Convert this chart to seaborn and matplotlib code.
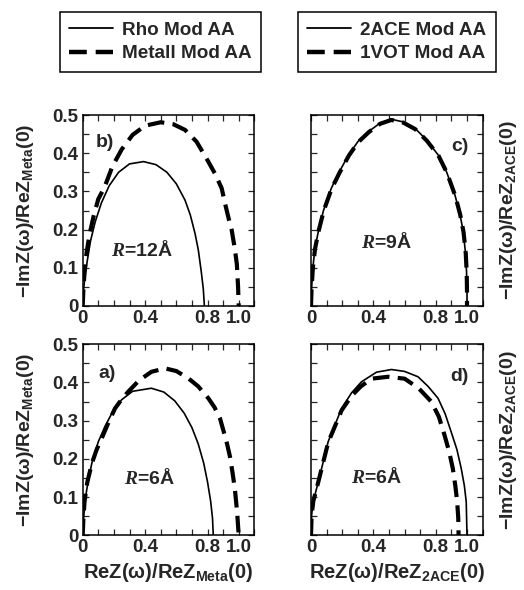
import numpy as np
import pandas as pd
import matplotlib
matplotlib.use('Agg')
import matplotlib.pyplot as plt
import seaborn as sns
from matplotlib.lines import Line2D
from matplotlib.ticker import FixedLocator, FixedFormatter, MultipleLocator

# panel b) R=12A : Rho Mod AA (solid) / Metall Mod AA (dashed)
b_solid_x = [0, 0.005, 0.015, 0.03, 0.05, 0.08, 0.12, 0.17, 0.23, 0.30, 0.39, 0.47, 0.54, 0.60, 0.656, 0.69, 0.72, 0.741, 0.76, 0.773, 0.78]
b_solid_y = [0, 0.04, 0.08, 0.12, 0.17, 0.22, 0.27, 0.315, 0.35, 0.372, 0.378, 0.37, 0.35, 0.32, 0.277, 0.238, 0.19, 0.147, 0.09, 0.045, 0]
b_dash_x = [0, 0.004, 0.012, 0.025, 0.045, 0.07, 0.10, 0.139, 0.19, 0.25, 0.32, 0.40, 0.50, 0.58, 0.656, 0.73, 0.805, 0.85, 0.891, 0.912, 0.935, 0.955, 0.975, 0.988, 0.996, 1.0]
b_dash_y = [0, 0.04, 0.09, 0.14, 0.19, 0.235, 0.28, 0.31, 0.365, 0.41, 0.448, 0.472, 0.481, 0.476, 0.461, 0.43, 0.378, 0.345, 0.308, 0.269, 0.23, 0.199, 0.15, 0.11, 0.05, 0]

# panel a) R=6A
a_solid_x = [0, 0.005, 0.015, 0.03, 0.058, 0.10, 0.143, 0.19, 0.25, 0.32, 0.44, 0.52, 0.59, 0.65, 0.70, 0.74, 0.775, 0.80, 0.82, 0.832, 0.837]
a_solid_y = [0, 0.04, 0.09, 0.13, 0.188, 0.245, 0.285, 0.322, 0.355, 0.377, 0.385, 0.375, 0.352, 0.32, 0.282, 0.24, 0.19, 0.14, 0.09, 0.045, 0]
a_dash_x = [0, 0.004, 0.012, 0.03, 0.06, 0.09, 0.122, 0.165, 0.207, 0.25, 0.292, 0.36, 0.44, 0.528, 0.60, 0.677, 0.74, 0.805, 0.845, 0.88, 0.905, 0.925, 0.944, 0.962, 0.976, 0.99, 1.0]
a_dash_y = [0, 0.04, 0.09, 0.14, 0.19, 0.225, 0.254, 0.295, 0.332, 0.356, 0.376, 0.405, 0.428, 0.437, 0.43, 0.411, 0.39, 0.359, 0.335, 0.306, 0.27, 0.24, 0.206, 0.16, 0.119, 0.06, 0]

# panel c) R=9A : 2ACE Mod AA (solid) / 1VOT Mod AA (dashed)
c_solid_x = [0, 0.003, 0.012, 0.025, 0.047, 0.08, 0.13, 0.18, 0.24, 0.30, 0.367, 0.44, 0.513, 0.59, 0.667, 0.74, 0.816, 0.87, 0.923, 0.955, 0.976, 0.99, 0.997, 1.0, 1.0]
c_solid_y = [0, 0.04, 0.10, 0.15, 0.195, 0.25, 0.308, 0.35, 0.395, 0.43, 0.456, 0.478, 0.489, 0.482, 0.465, 0.435, 0.395, 0.35, 0.29, 0.24, 0.195, 0.14, 0.09, 0.04, 0]
c_dash_x = [0, 0.003, 0.012, 0.026, 0.048, 0.082, 0.132, 0.183, 0.243, 0.303, 0.37, 0.443, 0.515, 0.592, 0.668, 0.742, 0.818, 0.872, 0.925, 0.957, 0.978, 0.992, 0.998, 1.0, 1.0]
c_dash_y = [0, 0.04, 0.10, 0.15, 0.195, 0.25, 0.307, 0.349, 0.394, 0.429, 0.455, 0.477, 0.487, 0.48, 0.463, 0.433, 0.393, 0.348, 0.288, 0.238, 0.193, 0.138, 0.088, 0.04, 0]

# panel d) R=6A
d_solid_x = [0, 0.004, 0.015, 0.047, 0.11, 0.196, 0.26, 0.324, 0.42, 0.516, 0.60, 0.686, 0.75, 0.814, 0.86, 0.899, 0.935, 0.963, 0.983, 0.995, 1.0]
d_solid_y = [0, 0.053, 0.09, 0.14, 0.245, 0.332, 0.373, 0.402, 0.427, 0.434, 0.429, 0.415, 0.39, 0.359, 0.318, 0.27, 0.225, 0.175, 0.13, 0.088, 0]
d_dash_x = [0, 0.004, 0.015, 0.047, 0.11, 0.196, 0.26, 0.32, 0.388, 0.494, 0.60, 0.69, 0.771, 0.82, 0.856, 0.885, 0.909, 0.925, 0.937, 0.944, 0.946]
d_dash_y = [0, 0.053, 0.09, 0.14, 0.243, 0.327, 0.365, 0.39, 0.41, 0.415, 0.41, 0.385, 0.35, 0.31, 0.262, 0.22, 0.175, 0.13, 0.088, 0.045, 0]

x_tick_vals = [0, 0.4, 0.8, 1.0]
x_tick_labels = ['0', '0.4', '0.8', '1.0']
y_tick_vals = [0, 0.1, 0.2, 0.3, 0.4, 0.5]
y_tick_labels = ['0', '0.1', '0.2', '0.3', '0.4', '0.5']

sns.set_style('ticks')
plt.rcParams['font.family'] = ['Liberation Sans', 'DejaVu Sans']
plt.rcParams['font.weight'] = 'bold'
plt.rcParams['mathtext.fontset'] = 'custom'
plt.rcParams['mathtext.rm'] = 'Liberation Sans:bold'
plt.rcParams['mathtext.bf'] = 'Liberation Sans:bold'
plt.rcParams['mathtext.it'] = 'Liberation Serif:italic:bold'
plt.rcParams['mathtext.default'] = 'bf'

fig = plt.figure(figsize=(5.24, 5.90), dpi=100)
W, H = 524, 590


def make_ax(left_px, top_px):
    return fig.add_axes([left_px / W, 1 - (top_px + 191) / H, 171.6 / W, 191 / H])


ax_b = make_ax(82.7, 115)
ax_a = make_ax(82.7, 344.3)
ax_c = make_ax(311, 115)
ax_d = make_ax(311, 344.3)

panels = [
    (ax_b, b_solid_x, b_solid_y, b_dash_x, b_dash_y, 'b)', (0.143, 0.427), '12', (0.378, 0.147)),
    (ax_a, a_solid_x, a_solid_y, a_dash_x, a_dash_y, 'a)', (0.154, 0.424), '6', (0.43, 0.149)),
    (ax_c, c_solid_x, c_solid_y, c_dash_x, c_dash_y, 'c)', (0.955, 0.417), '9', (0.484, 0.168)),
    (ax_d, d_solid_x, d_solid_y, d_dash_x, d_dash_y, 'd)', (0.952, 0.415), '6', (0.42, 0.153)),
]

for ax, sx, sy, dx, dy, lab, lab_pos, rval, r_pos in panels:
    sns.lineplot(x=sx, y=sy, ax=ax, sort=False, estimator=None, color='black', linewidth=1.2)
    sns.lineplot(x=dx, y=dy, ax=ax, sort=False, estimator=None, color='black', linewidth=3.0,
                 linestyle=(0, (4, 2)))
    ax.set_xlim(0, 1.1)
    ax.set_ylim(0, 0.5)
    ax.xaxis.set_major_locator(FixedLocator(x_tick_vals))
    ax.xaxis.set_major_formatter(FixedFormatter(x_tick_labels))
    ax.xaxis.set_minor_locator(MultipleLocator(0.1))
    ax.yaxis.set_major_locator(FixedLocator(y_tick_vals))
    ax.yaxis.set_minor_locator(MultipleLocator(0.05))
    ax.tick_params(which='both', direction='in', top=True, right=True, length=4.5, width=0.9,
                   labelsize=13.5, pad=3)
    for sp in ax.spines.values():
        sp.set_linewidth(1.1)
        sp.set_color('black')
    ax.text(lab_pos[0], lab_pos[1], lab, fontsize=14, fontweight='bold', ha='center', va='center')
    ax.text(r_pos[0], r_pos[1], r'$\mathit{R}$=' + rval + 'Å', fontsize=14, fontweight='bold',
            ha='center', va='center')
    ax.set_xlabel('')
    ax.set_ylabel('')

for ax in (ax_b, ax_a):
    ax.yaxis.set_major_formatter(FixedFormatter(y_tick_labels))
    ax.set_ylabel(r'$-ImZ(\omega)/ReZ_{Meta}(0)$', fontsize=14, labelpad=12)
for ax in (ax_c, ax_d):
    ax.tick_params(labelleft=False)
    ax.yaxis.set_label_position('right')
    ax.set_ylabel(r'$-ImZ(\omega)/ReZ_{2ACE}(0)$', fontsize=14, labelpad=11)

ax_a.set_xlabel(r'$ReZ(\omega)/ReZ_{Meta}(0)$', fontsize=14.5, labelpad=3)
ax_d.set_xlabel(r'$ReZ(\omega)/ReZ_{2ACE}(0)$', fontsize=14.5, labelpad=3)

solid_h = Line2D([], [], color='black', linewidth=1.3)
dash_h = Line2D([], [], color='black', linewidth=3.2, linestyle=(0, (4, 2)))
leg_kw = dict(loc='upper left', fancybox=False, edgecolor='black', framealpha=1,
              fontsize=13.6, handlelength=2.3, borderaxespad=0, labelspacing=0.35,
              borderpad=0.5, handletextpad=0.5)
leg1 = fig.legend([solid_h, dash_h], ['Rho Mod AA', 'Metall Mod AA'],
                  bbox_to_anchor=(60 / W, 1 - 12 / H), **leg_kw)
leg2 = fig.legend([solid_h, dash_h], ['2ACE Mod AA', '1VOT Mod AA'],
                  bbox_to_anchor=(298 / W, 1 - 12 / H), **leg_kw)
for leg in (leg1, leg2):
    leg.get_frame().set_linewidth(1.1)
    for t in leg.get_texts():
        t.set_fontweight('bold')

fig.savefig('out.png', dpi=100)
